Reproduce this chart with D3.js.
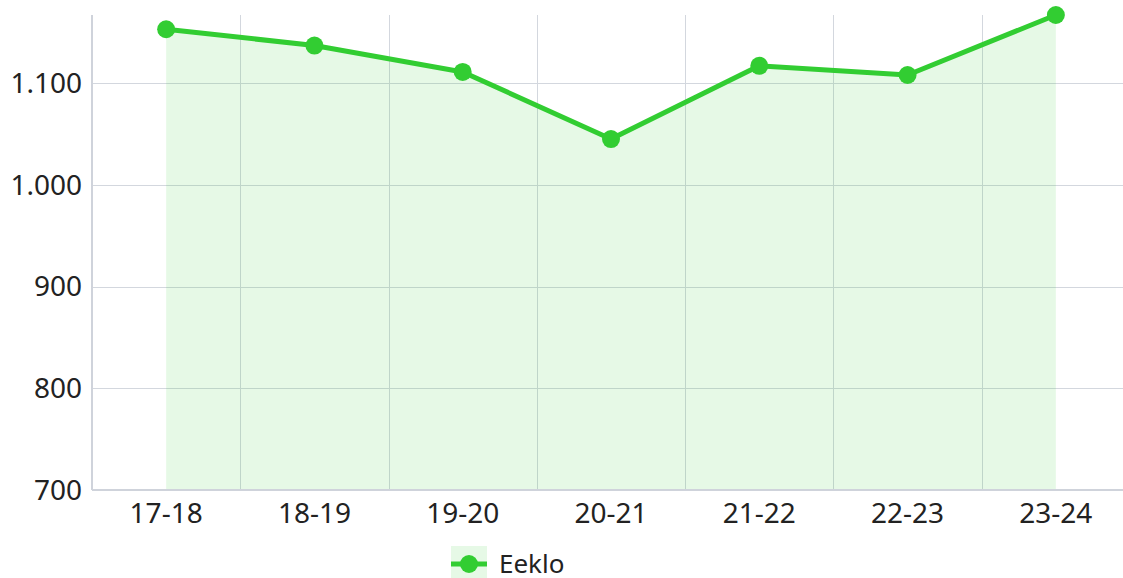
<!DOCTYPE html>
<html>
<head>
<meta charset="utf-8">
<script src="https://cdn.jsdelivr.net/npm/d3@7"></script>
<style>
    html, body { margin: 0; padding: 0; background: #fff; overflow: hidden; }
    svg { display: block; font-family: "Noto Sans", "Open Sans", sans-serif; }
    .grid-line { stroke: #d3d7de; stroke-width: 1; shape-rendering: crispEdges; }
    .axis-line { stroke: #cfd3db; stroke-width: 1.5; shape-rendering: crispEdges; }
    .tick-label { fill: #222; font-size: 28px; }
    .legend-label { fill: #222; font-size: 26px; }
</style>
</head>
<body>
<svg id="chart" width="1123" height="578"></svg>
<script>
// data
var seasons = ["17-18", "18-19", "19-20", "20-21", "21-22", "22-23", "23-24"];
var eekloValues = [1153, 1137, 1111, 1045, 1117, 1108, 1167];
var yTicks = [700, 800, 900, 1000, 1100];
var seriesName = "Eeklo";

var lineColor = "#32cd32",
    fillColor = "rgba(50, 205, 50, 0.12)";

var svg = d3.select("#chart");

// plot box (note: "top" is taken by window.top)
var plotLeft = 92, plotRight = 1130, plotTop = 15, plotBottom = 490;

var x = d3.scaleBand()
    .domain(seasons)
    .range([plotLeft, plotRight])
    .padding(0);

var y = d3.scaleLinear()
    .domain([700, d3.max(eekloValues)])
    .range([plotBottom, plotTop]);

// Dutch number formatting: 1.100
var nl = d3.formatLocale({ decimal: ",", thousands: ".", grouping: [3], currency: ["€", ""] });
var fmt = nl.format(",d");

function cx(d, i) { return x(seasons[i]) + x.bandwidth() / 2; }

// grid lines
var grid = svg.append("g").classed("grid", true);

grid.selectAll("line.h")
    .data(yTicks.slice(1))
    .enter()
    .append("line")
    .attr("class", "grid-line h")
    .attr("x1", plotLeft)
    .attr("x2", 1123)
    .attr("y1", function (d) { return Math.round(y(d)) + 0.5; })
    .attr("y2", function (d) { return Math.round(y(d)) + 0.5; });

grid.selectAll("line.v")
    .data(seasons.slice(1))
    .enter()
    .append("line")
    .attr("class", "grid-line v")
    .attr("x1", function (d) { return Math.round(x(d)) + 0.5; })
    .attr("x2", function (d) { return Math.round(x(d)) + 0.5; })
    .attr("y1", plotTop)
    .attr("y2", plotBottom);

// area under the line
var area = d3.area()
    .x(cx)
    .y0(y(700))
    .y1(function (d) { return y(d); });

svg.append("path")
    .datum(eekloValues)
    .attr("fill", fillColor)
    .attr("d", area);

// axis borders
svg.append("line")
    .attr("class", "axis-line")
    .attr("x1", plotLeft).attr("x2", plotLeft)
    .attr("y1", plotTop).attr("y2", plotBottom);
svg.append("line")
    .attr("class", "axis-line")
    .attr("x1", plotLeft).attr("x2", 1123)
    .attr("y1", plotBottom).attr("y2", plotBottom);

// y labels
svg.selectAll("text.y-label")
    .data(yTicks)
    .enter()
    .append("text")
    .attr("class", "tick-label y-label")
    .attr("x", plotLeft - 10)
    .attr("y", function (d) { return y(d); })
    .attr("dy", "0.35em")
    .attr("text-anchor", "end")
    .text(fmt);

// x labels
svg.selectAll("text.x-label")
    .data(seasons)
    .enter()
    .append("text")
    .attr("class", "tick-label x-label")
    .attr("x", function (d) { return x(d) + x.bandwidth() / 2; })
    .attr("y", 523)
    .attr("text-anchor", "middle")
    .text(function (d) { return d; });

// line
var line = d3.line()
    .x(cx)
    .y(function (d) { return y(d); });

svg.append("path")
    .datum(eekloValues)
    .attr("fill", "none")
    .attr("stroke", lineColor)
    .attr("stroke-width", 5)
    .attr("stroke-linejoin", "round")
    .attr("d", line);

svg.append("g").selectAll("circle")
    .data(eekloValues)
    .enter()
    .append("circle")
    .attr("cx", cx)
    .attr("cy", function (d) { return y(d); })
    .attr("r", 9)
    .attr("fill", lineColor);

// legend
var legend = svg.append("g").attr("transform", "translate(451,546)");
legend.append("rect")
    .attr("width", 36)
    .attr("height", 32)
    .attr("fill", fillColor);
legend.append("line")
    .attr("x1", 0).attr("x2", 36)
    .attr("y1", 18).attr("y2", 18)
    .attr("stroke", lineColor)
    .attr("stroke-width", 5);
legend.append("circle")
    .attr("cx", 18).attr("cy", 18)
    .attr("r", 9)
    .attr("fill", lineColor);
legend.append("text")
    .attr("class", "legend-label")
    .attr("x", 48)
    .attr("y", 27)
    .text(seriesName);
</script>
</body>
</html>
